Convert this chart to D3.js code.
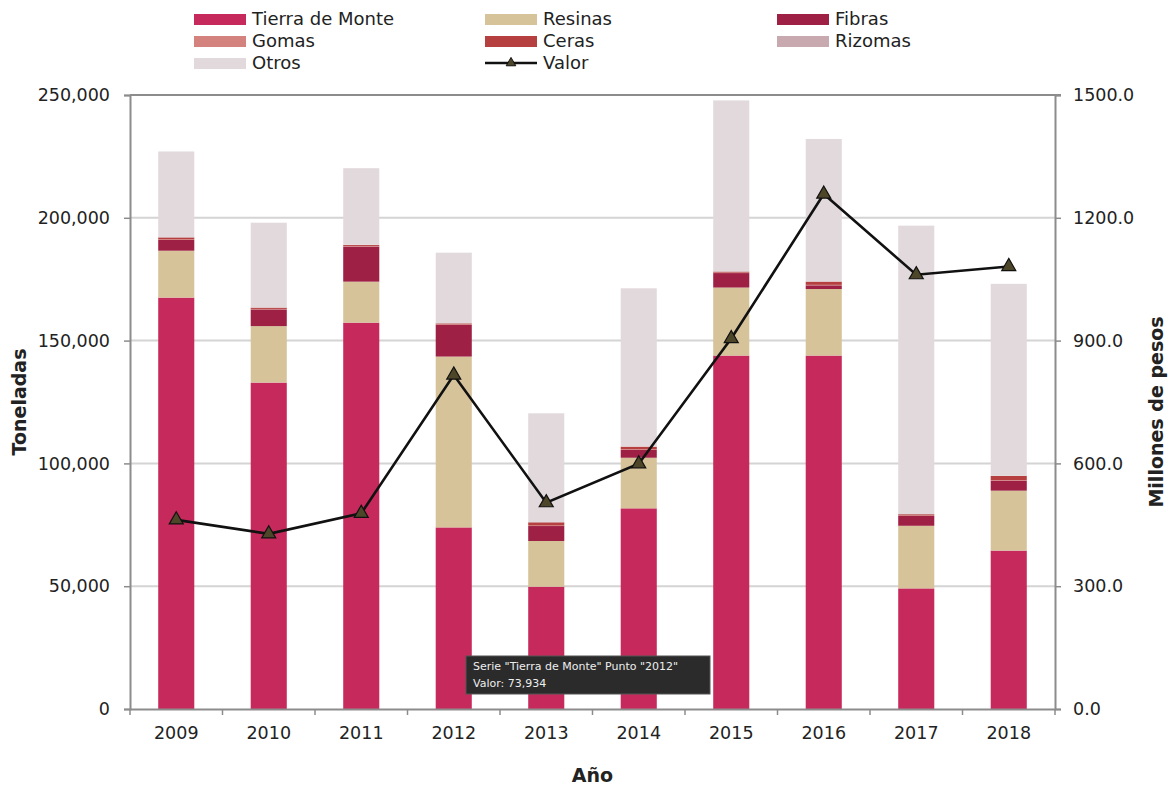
<!DOCTYPE html>
<html><head><meta charset="utf-8">
<script src="https://cdn.jsdelivr.net/npm/d3@7"></script>
<style>body{margin:0;background:#fff}svg{display:block}</style>
</head><body><div id="chart"></div>
<script>
const years = ["2009","2010","2011","2012","2013","2014","2015","2016","2017","2018"];
const tierraDeMonte = [167500,132900,157300,73934,49800,81700,143900,143900,49100,64500];
const resinas      = [19100,23000,16700,69566,18600,20600,27700,27100,25500,24400];
const fibras       = [4400,6800,14300,12900,6100,3200,5900,1500,4000,4100];
const gomas        = [200,200,200,200,200,200,200,200,200,200];
const ceras        = [800,500,400,400,1300,1100,400,1300,500,1700];
const rizomas      = [100,100,100,100,100,100,100,100,100,100];
const otros        = [34900,34500,31200,28700,44300,64400,69600,58000,117400,78100];
const valor        = [462,428,478,816,504,599,905,1258,1061,1081];
const leftTicks  = [0,50000,100000,150000,200000,250000];
const rightTicks = [0,300,600,900,1200,1500];

const seriesNames = ["Tierra de Monte","Resinas","Fibras","Gomas","Ceras","Rizomas","Otros"];
const seriesData = [tierraDeMonte,resinas,fibras,gomas,ceras,rizomas,otros];
const colors = ["#c62a5c","#d6c39a","#9e2145","#d4827d","#b5403f","#c9a9b0","#e2d9dc"];

const W=1170,H=787;
const m={l:130,r:115,t:95,b:78};
const FONT="'DejaVu Sans', sans-serif";
const svg=d3.select("#chart").append("svg").attr("width",W).attr("height",H);

const x=d3.scaleBand().domain(years).range([m.l,W-m.r]).paddingInner(0.61).paddingOuter(0.305);
const y=d3.scaleLinear().domain([0,250000]).range([H-m.b,m.t]);
const y2=d3.scaleLinear().domain([0,1500]).range([H-m.b,m.t]);

// gridlines
svg.append("g").selectAll("line").data(leftTicks.filter(d=>d>0&&d<250000)).join("line")
  .attr("x1",m.l).attr("x2",W-m.r).attr("y1",d=>y(d)).attr("y2",d=>y(d))
  .attr("stroke","#d4d4d4").attr("stroke-width",2);

// stacked data
const table=years.map((yr,i)=>{const o={year:yr};seriesNames.forEach((s,k)=>o[s]=seriesData[k][i]);return o;});
const stack=d3.stack().keys(seriesNames)(table);
svg.append("g").selectAll("g").data(stack).join("g").attr("fill",(d,i)=>colors[i])
  .selectAll("rect").data(d=>d).join("rect")
  .attr("x",d=>x(d.data.year)).attr("width",x.bandwidth())
  .attr("y",d=>y(d[1])).attr("height",d=>Math.max(0,y(d[0])-y(d[1])));

// axes
const axisColor="#8c8c8c";
const gl=svg.append("g").attr("transform",`translate(${m.l},0)`)
  .call(d3.axisLeft(y).tickValues(leftTicks).tickSize(6).tickPadding(14).tickFormat(d3.format(",")));
const gr=svg.append("g").attr("transform",`translate(${W-m.r},0)`)
  .call(d3.axisRight(y2).tickValues(rightTicks).tickSize(6).tickPadding(12).tickFormat(d3.format(".1f")));
const gb=svg.append("g").attr("transform",`translate(0,${H-m.b})`)
  .call(d3.axisBottom(x).tickSize(0).tickPadding(18));
[gl,gr,gb].forEach(g=>{
  g.select(".domain").attr("stroke",axisColor).attr("stroke-width",2);
  g.selectAll(".tick line").attr("stroke",axisColor).attr("stroke-width",1.5);
  g.selectAll("text").attr("font-family",FONT).attr("font-size",17.5).attr("fill","#222");
});
// top line
svg.append("line").attr("x1",m.l).attr("x2",W-m.r+6).attr("y1",y(250000)).attr("y2",y(250000))
  .attr("stroke",axisColor).attr("stroke-width",2);
// bottom ticks at category boundaries
const bounds=years.map(d=>x(d)-x.step()*x.paddingInner()/2).concat([W-m.r]);
svg.append("g").selectAll("line").data(bounds).join("line")
  .attr("x1",d=>d).attr("x2",d=>d).attr("y1",H-m.b).attr("y2",H-m.b+6)
  .attr("stroke",axisColor).attr("stroke-width",1.5);

// line
const cx=d=>x(d)+x.bandwidth()/2;
const lineGen=d3.line().x((d,i)=>cx(years[i])).y(d=>y2(d));
svg.append("path").datum(valor).attr("d",lineGen).attr("fill","none").attr("stroke","#111").attr("stroke-width",2.6);
const tri=d3.symbol().type(d3.symbolTriangle).size(85);
svg.append("g").selectAll("path").data(valor).join("path")
  .attr("d",tri).attr("transform",(d,i)=>`translate(${cx(years[i])},${y2(d)})`)
  .attr("fill","#4d4628").attr("stroke","#111").attr("stroke-width",1.2);

// axis titles
svg.append("text").attr("transform",`translate(26,${(m.t+H-m.b)/2}) rotate(-90)`).attr("text-anchor","middle")
  .attr("font-family",FONT).attr("font-weight","bold").attr("font-size",19).attr("fill","#222").text("Toneladas");
svg.append("text").attr("transform",`translate(1163,${(m.t+H-m.b)/2+10}) rotate(-90)`).attr("text-anchor","middle")
  .attr("font-family",FONT).attr("font-weight","bold").attr("font-size",19).attr("fill","#222").text("Millones de pesos");
svg.append("text").attr("x",(m.l+W-m.r)/2).attr("y",782).attr("text-anchor","middle")
  .attr("font-family",FONT).attr("font-weight","bold").attr("font-size",19).attr("fill","#222").text("Año");

// legend
const legItems=[...seriesNames.map((s,i)=>({name:s,color:colors[i],type:"rect"})),{name:"Valor",type:"line"}];
const colX=[194,485,777], rowY=[19,41,63];
const lg=svg.append("g");
legItems.forEach((it,i)=>{
  const cxl=colX[i%3], cy=rowY[Math.floor(i/3)];
  if(it.type==="rect"){
    lg.append("rect").attr("x",cxl).attr("y",cy-5).attr("width",52).attr("height",11).attr("fill",it.color);
  } else {
    lg.append("line").attr("x1",cxl).attr("x2",cxl+52).attr("y1",cy).attr("y2",cy).attr("stroke","#111").attr("stroke-width",2.6);
    lg.append("path").attr("d",d3.symbol().type(d3.symbolTriangle).size(40)).attr("transform",`translate(${cxl+26},${cy})`)
      .attr("fill","#4d4628").attr("stroke","#111");
  }
  lg.append("text").attr("x",cxl+58).attr("y",cy).attr("dy","0.35em").attr("font-family",FONT).attr("font-size",18)
    .attr("fill","#222").text(it.name);
});

// tooltip overlay
const tipYear="2012", ti=years.indexOf(tipYear);
const tg=svg.append("g");
tg.append("rect").attr("x",466).attr("y",656).attr("width",244).attr("height",38).attr("fill","#2b2b2b").attr("stroke","#555");
tg.append("text").attr("x",473).attr("y",670).attr("font-family",FONT).attr("font-size",11).attr("fill","#eee")
  .text(`Serie "Tierra de Monte" Punto "${tipYear}"`);
tg.append("text").attr("x",473).attr("y",687).attr("font-family",FONT).attr("font-size",11).attr("fill","#eee")
  .text(`Valor: ${d3.format(",")(tierraDeMonte[ti])}`);
</script></body></html>
